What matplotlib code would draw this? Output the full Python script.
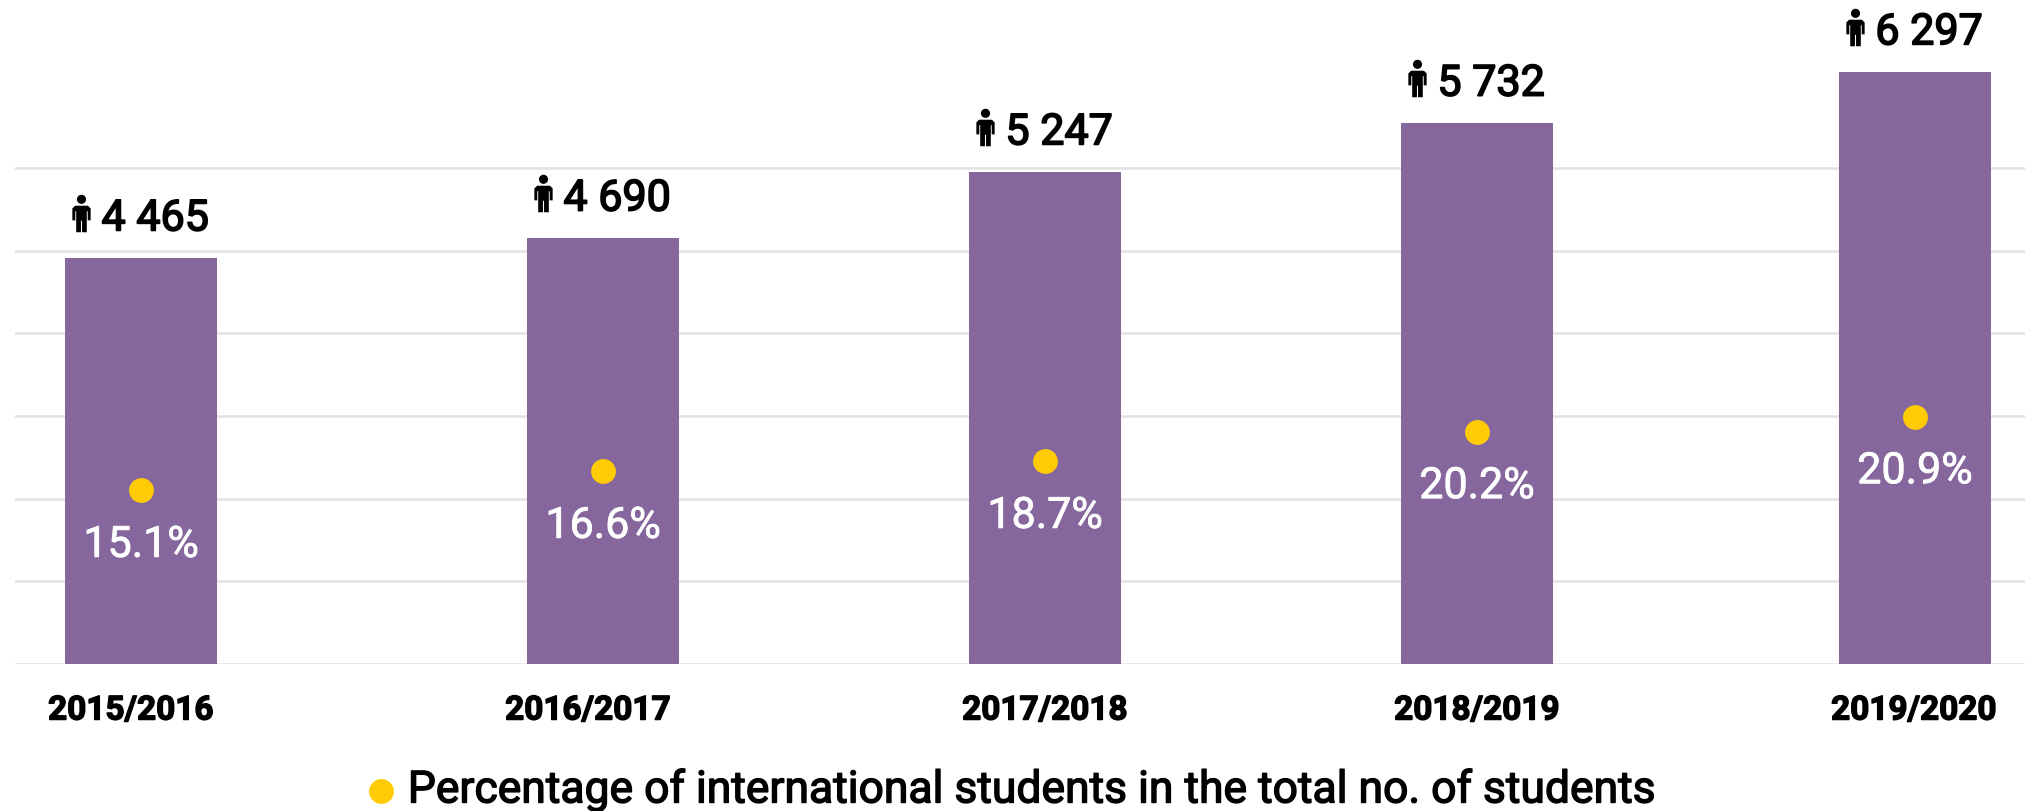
import matplotlib
matplotlib.use("Agg")
import matplotlib.pyplot as plt
import matplotlib.patheffects as pe
from matplotlib.path import Path
from matplotlib.transforms import offset_copy

years = ["2015/2016", "2016/2017", "2017/2018", "2018/2019", "2019/2020"]
students = ["4 465", "4 690", "5 247", "5 732", "6 297"]
shares = ["15.1%", "16.6%", "18.7%", "20.2%", "20.9%"]
# bar and dot heights, in gridline units
bar_heights = [4.91, 5.15, 5.95, 6.54, 7.16]
dot_heights = [2.10, 2.33, 2.45, 2.81, 2.99]

PURPLE = "#85679d"
YELLOW = "#ffcb05"
GRID = "#e2e2e2"
W, H = 2037, 811
BASE_Y = 664
UNIT = 82.7
LEFT, RIGHT = 15, 2025
bar_centres = [141, 603, 1045, 1477, 1915]
tick_centres = [131, 588, 1045, 1477, 1914]


def person_marker():
    # centred on the origin so the marker sits at its mid height
    head = Path.circle((0, 1.55), 0.5)
    verts = [(-0.7, 0.85), (0.7, 0.85), (1.0, 0.55), (1.0, -0.75), (0.68, -0.75), (0.68, 0.25),
             (0.58, 0.25), (0.58, -2.05), (0.06, -2.05), (0.06, -0.8), (-0.06, -0.8), (-0.06, -2.05),
             (-0.58, -2.05), (-0.58, 0.25), (-0.68, 0.25), (-0.68, -0.75), (-1.0, -0.75), (-1.0, 0.55),
             (-0.7, 0.85)]
    codes = [Path.MOVETO] + [Path.LINETO] * (len(verts) - 1)
    return Path.make_compound_path(head, Path(verts, codes))


def thicken(width, colour):
    return [pe.withStroke(linewidth=width, foreground=colour)]


fig = plt.figure(figsize=(W / 100, H / 100), dpi=100)
ax = fig.add_axes([LEFT / W, (H - BASE_Y) / H, (RIGHT - LEFT) / W, BASE_Y / H])
ax.set_xlim(LEFT, RIGHT)
ax.set_ylim(0, BASE_Y / UNIT)

ax.bar(bar_centres, bar_heights, width=152, color=PURPLE, zorder=3)
ax.scatter(bar_centres, dot_heights, s=320, color=YELLOW, linewidths=0, zorder=4)

icon = person_marker()
for x, h, dot, n, pct in zip(bar_centres, bar_heights, dot_heights, students, shares):
    ax.annotate(n, (x, h), xytext=(14, 39), textcoords="offset pixels", ha="center", va="center",
                fontsize=31, family="Roboto", color="black", annotation_clip=False,
                path_effects=thicken(1.2, "black"))
    ax.annotate(pct, (x, dot), xytext=(0, -55), textcoords="offset pixels", ha="center", va="center",
                fontsize=31, family="Roboto", color="white", zorder=5,
                path_effects=thicken(0.6, "white"))
    ax.plot([x], [h], marker=icon, markersize=27, color="black", markeredgewidth=0, clip_on=False,
            transform=offset_copy(ax.transData, fig=fig, x=-60, y=45, units="dots"))

ax.set_yticks(range(0, 7))
ax.set_yticklabels([])
ax.grid(axis="y", color=GRID, linewidth=1.8, zorder=0)
ax.set_axisbelow(True)
ax.set_xticks(tick_centres)
ax.set_xticklabels(years, fontsize=24, fontweight="bold", family="Roboto",
                   path_effects=thicken(1.0, "black"))
ax.tick_params(length=0, pad=22)
for spine in ax.spines.values():
    spine.set_visible(False)

handle = ax.scatter([], [], s=320, color=YELLOW, linewidths=0)
legend = fig.legend([handle], ["Percentage of international students in the total no. of students"],
                    loc="center", bbox_to_anchor=(1013 / W, 1 - 790 / H), frameon=False,
                    handlelength=0.6, handletextpad=0.3,
                    prop={"family": "Roboto", "size": 32})
legend.get_texts()[0].set_path_effects(thicken(1.0, "black"))

fig.savefig("out.png", dpi=100)
plt.close(fig)
